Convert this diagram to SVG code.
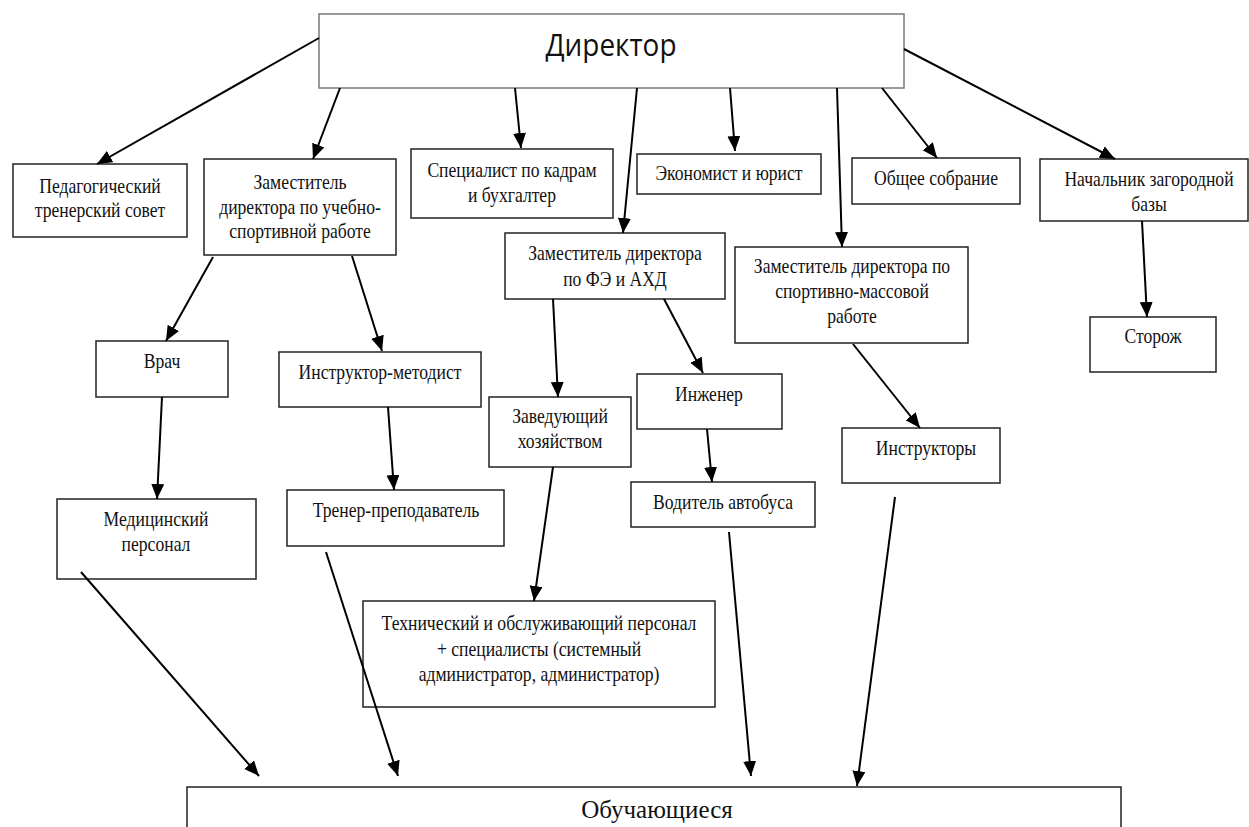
<svg xmlns="http://www.w3.org/2000/svg" width="1249" height="827" viewBox="0 0 1249 827">
<defs>
<marker id="ah" markerUnits="userSpaceOnUse" markerWidth="16" markerHeight="14" refX="15" refY="6.5" orient="auto">
<path d="M0,0 L15,6.5 L0,13 z" fill="#000"/>
</marker>
<style>
.b{fill:#fff;stroke:#222;stroke-width:1.5}
.d{fill:#fff;stroke:#7a7a7a;stroke-width:1.5}
.t{font-family:"Liberation Serif","Times New Roman",serif;font-size:20px;fill:#111;text-anchor:middle;transform-box:fill-box;transform-origin:center;transform:scaleX(0.88)}
.h{font-family:"Open Sans","DejaVu Sans",sans-serif;font-size:31px;fill:#111;text-anchor:middle;transform-box:fill-box;transform-origin:center;transform:scaleX(0.9)}
.big{font-size:25px;transform:none}
.c line{stroke:#000;stroke-width:2;marker-end:url(#ah)}
</style>
</defs>
<rect width="1249" height="827" fill="#fff"/>
<g id="n-director"><rect class="d" x="319" y="14" width="585" height="74"/><text class="h" x="611" y="56">Директор</text></g>
<g id="n-ped"><rect class="b" x="13" y="164" width="174" height="73"/><text class="t" x="100" y="193">Педагогический</text><text class="t" x="100" y="217">тренерский совет</text></g>
<g id="n-zam1"><rect class="b" x="204" y="159" width="192" height="96"/><text class="t" x="300" y="189">Заместитель</text><text class="t" x="300" y="214">директора по учебно-</text><text class="t" x="300" y="238">спортивной работе</text></g>
<g id="n-spec"><rect class="b" x="411" y="149" width="202" height="69"/><text class="t" x="512" y="177">Специалист по кадрам</text><text class="t" x="512" y="202">и бухгалтер</text></g>
<g id="n-econ"><rect class="b" x="637" y="154" width="184" height="40"/><text class="t" x="729" y="180">Экономист и юрист</text></g>
<g id="n-fe"><rect class="b" x="505" y="233" width="220" height="66"/><text class="t" x="615" y="260">Заместитель директора</text><text class="t" x="615" y="286">по ФЭ и АХД</text></g>
<g id="n-sport"><rect class="b" x="735" y="247" width="233" height="96"/><text class="t" x="852" y="273">Заместитель директора по</text><text class="t" x="852" y="298">спортивно-массовой</text><text class="t" x="852" y="323">работе</text></g>
<g id="n-obsh"><rect class="b" x="852" y="158" width="168" height="46"/><text class="t" x="936" y="185">Общее собрание</text></g>
<g id="n-nach"><rect class="b" x="1040" y="159" width="208" height="62"/><text class="t" x="1149" y="186">Начальник загородной</text><text class="t" x="1149" y="211">базы</text></g>
<g id="n-storozh"><rect class="b" x="1090" y="317" width="126" height="55"/><text class="t" x="1153" y="343">Сторож</text></g>
<g id="n-vrach"><rect class="b" x="96" y="341" width="132" height="56"/><text class="t" x="162" y="368">Врач</text></g>
<g id="n-instrmet"><rect class="b" x="279" y="352" width="202" height="55"/><text class="t" x="380" y="379">Инструктор-методист</text></g>
<g id="n-med"><rect class="b" x="57" y="499" width="199" height="80"/><text class="t" x="156" y="526">Медицинский</text><text class="t" x="156" y="551">персонал</text></g>
<g id="n-trener"><rect class="b" x="287" y="490" width="217" height="56"/><text class="t" x="396" y="517">Тренер-преподаватель</text></g>
<g id="n-zav"><rect class="b" x="489" y="397" width="142" height="70"/><text class="t" x="560" y="423">Заведующий</text><text class="t" x="560" y="448">хозяйством</text></g>
<g id="n-inzh"><rect class="b" x="637" y="374" width="145" height="55"/><text class="t" x="709" y="401">Инженер</text></g>
<g id="n-vod"><rect class="b" x="631" y="482" width="184" height="45"/><text class="t" x="723" y="509">Водитель автобуса</text></g>
<g id="n-instr"><rect class="b" x="842" y="428" width="158" height="55"/><text class="t" x="926" y="455">Инструкторы</text></g>
<g id="n-tech"><rect class="b" x="363" y="601" width="352" height="106"/><text class="t" x="539" y="630">Технический и обслуживающий персонал</text><text class="t" x="539" y="656">+ специалисты (системный</text><text class="t" x="539" y="681">администратор, администратор)</text></g>
<g id="n-obuch"><rect class="b" x="187" y="787" width="934" height="60"/><text class="t big" x="657" y="818">Обучающиеся</text></g>
<g id="connectors" class="c">
<line x1="319" y1="38" x2="97" y2="164"/>
<line x1="340" y1="88" x2="313" y2="159"/>
<line x1="515" y1="88" x2="521" y2="148"/>
<line x1="637" y1="88" x2="623" y2="233"/>
<line x1="730" y1="88" x2="735" y2="151"/>
<line x1="837" y1="88" x2="842" y2="247"/>
<line x1="882" y1="88" x2="937" y2="158"/>
<line x1="904" y1="49" x2="1115" y2="159"/>
<line x1="1142" y1="221" x2="1147" y2="317"/>
<line x1="213" y1="257" x2="166" y2="341"/>
<line x1="352" y1="256" x2="382" y2="351"/>
<line x1="162" y1="397" x2="157" y2="499"/>
<line x1="388" y1="407" x2="394" y2="490"/>
<line x1="81" y1="572" x2="259" y2="776"/>
<line x1="326" y1="552" x2="398" y2="776"/>
<line x1="553" y1="299" x2="558" y2="397"/>
<line x1="664" y1="299" x2="703" y2="373"/>
<line x1="707" y1="429" x2="712" y2="482"/>
<line x1="853" y1="344" x2="920" y2="428"/>
<line x1="553" y1="467" x2="534" y2="601"/>
<line x1="729" y1="532" x2="751" y2="776"/>
<line x1="895" y1="497" x2="857" y2="786"/>
</g>
</svg>
